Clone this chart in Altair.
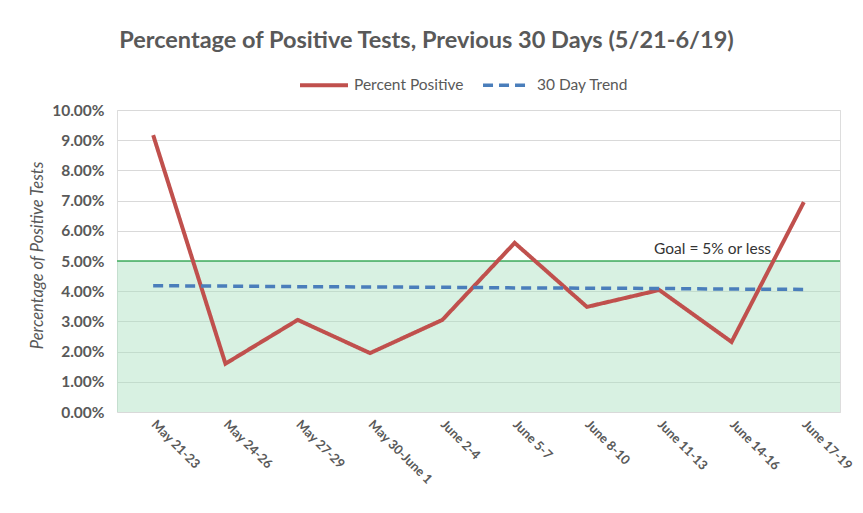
import altair as alt
import pandas as pd

categories = ["May 21-23", "May 24-26", "May 27-29", "May 30-June 1", "June 2-4",
              "June 5-7", "June 8-10", "June 11-13", "June 14-16", "June 17-19"]
percent_positive = [0.0917, 0.0160, 0.0305, 0.0195, 0.0305, 0.0560, 0.0348, 0.0404, 0.0232, 0.0695]
trend = [0.0418, 0.0417, 0.0415, 0.0414, 0.0413, 0.0411, 0.0410, 0.0409, 0.0407, 0.0406]
series_names = ["Percent Positive", "30 Day Trend"]
y_ticks = [0.0, 0.01, 0.02, 0.03, 0.04, 0.05, 0.06, 0.07, 0.08, 0.09, 0.10]
goal = 0.05
goal_label = "Goal = 5% or less"

W, H = 723, 302
FONT = "Lato"
GREY = "#595959"
YTITLE = "Percentage   of   Positive   Tests"

rows = []
for c, v in zip(categories, percent_positive):
    rows.append({"cat": c, "value": v, "series": series_names[0]})
for c, v in zip(categories, trend):
    rows.append({"cat": c, "value": v, "series": series_names[1]})
df = pd.DataFrame(rows)

goal_df = pd.DataFrame({"goal": [goal], "y0": [0.0], "label": [goal_label], "cat": ["June 14-16"]})

xscale = alt.Scale(type="point", padding=0.5)
yscale = alt.Scale(domain=[0, 0.10])

yaxis = alt.Axis(format=".2%", values=y_ticks, labelOverlap=False,
                 domain=False, ticks=False, labelPadding=13, gridColor="#d9d9d9",
                 labelFont=FONT, labelFontSize=15.5, labelColor=GREY,
                 labelFontWeight="bold",
                 titleFont=FONT,
                 titleFontSize=16.5, titleFontStyle="italic", titleFontWeight="normal",
                 titleColor=GREY, titleX=-80, titleY=145, titleAngle=270,
                 titleAlign="center", titleBaseline="middle")

xaxis = alt.Axis(labelAngle=45, labelAlign="left", labelBaseline="middle",
                 labelPadding=10, domain=False, ticks=False, grid=False,
                 labelFont=FONT, labelFontSize=12.8, labelColor=GREY,
                 labelFontWeight="bold", labelOverlap=False, labelBound=False)

band = alt.Chart(goal_df).mark_rect(fill="#a8e0be", opacity=0.45).encode(
    x=alt.value(0), x2=alt.value("width"),
    y=alt.Y("y0:Q", scale=yscale, axis=yaxis, title=YTITLE),
    y2="goal:Q",
)

goal_rule = alt.Chart(goal_df).mark_rule(color="#3fae5e", strokeWidth=1.5).encode(
    x=alt.value(0), x2=alt.value("width"),
    y=alt.Y("goal:Q", scale=yscale, axis=yaxis, title=YTITLE),
)

lines = alt.Chart(df).mark_line(strokeCap="butt").encode(
    x=alt.X("cat:N", sort=categories, title=None, scale=xscale, axis=xaxis),
    y=alt.Y("value:Q", scale=yscale, axis=yaxis, title=YTITLE),
    color=alt.Color("series:N", sort=series_names,
                    scale=alt.Scale(domain=series_names, range=["#c0504d", "#4a7ebb"]),
                    legend=alt.Legend(title=None, orient="none", direction="horizontal",
                                      legendX=181, legendY=-51, symbolType="stroke",
                                      symbolSize=2300, symbolStrokeWidth=4,
                                      labelFont=FONT, labelFontSize=15.5, labelColor=GREY,
                                      columnPadding=12, labelOffset=4)),
    strokeDash=alt.StrokeDash("series:N", sort=series_names,
                              scale=alt.Scale(domain=series_names, range=[[1, 0], [10, 6]]),
                              legend=None),
    strokeWidth=alt.StrokeWidth("series:N", sort=series_names,
                                scale=alt.Scale(domain=series_names, range=[4, 3.5]),
                                legend=None),
)

goal_text = alt.Chart(goal_df).mark_text(
    font=FONT, fontSize=15.5, color="#333333", baseline="bottom", align="center", dx=-19, dy=-4
).encode(
    x=alt.X("cat:N", sort=categories, scale=xscale, axis=xaxis, title=None),
    y=alt.Y("goal:Q", scale=yscale, axis=yaxis, title=YTITLE),
    text="label:N",
)

chart = alt.layer(band, goal_rule, lines, goal_text).properties(
    width=W, height=H,
    title=alt.TitleParams("Percentage of Positive Tests, Previous 30 Days (5/21-6/19)",
                          font=FONT, fontSize=23.5, fontWeight="bold", color=GREY,
                          anchor="middle", dx=-52, offset=7),
    autosize=alt.AutoSizeParams(type="none"),
    padding={"left": 109, "top": 102, "right": 15, "bottom": 85},
).configure_view(strokeWidth=0).configure(background="white")

chart.save("out.html", embed_options={"renderer": "svg", "actions": False})
